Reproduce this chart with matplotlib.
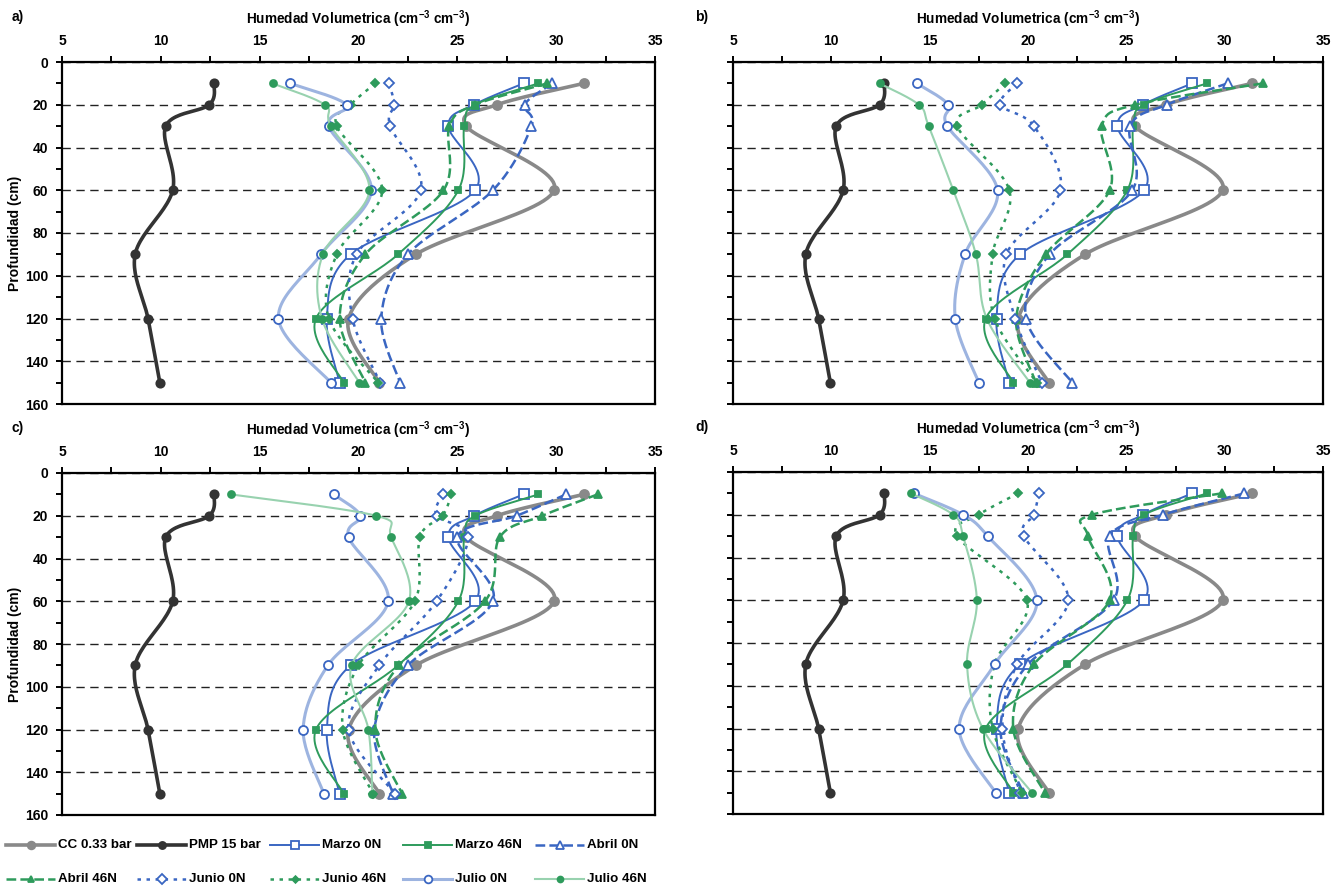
import numpy as np
import matplotlib
matplotlib.use('Agg')
import matplotlib.pyplot as plt
from matplotlib.lines import Line2D
from matplotlib.ticker import MultipleLocator

plt.rcParams['font.family'] = ['Liberation Sans', 'DejaVu Sans']
plt.rcParams['font.weight'] = 'bold'
plt.rcParams['mathtext.fontset'] = 'custom'
plt.rcParams['mathtext.rm'] = 'Liberation Sans:bold'
plt.rcParams['mathtext.bf'] = 'Liberation Sans:bold'
plt.rcParams['lines.scale_dashes'] = False

# depth of each reading (cm)
depths = [10, 20, 30, 60, 90, 120, 150]

# same in every panel
cc = [31.4, 27.0, 25.45, 29.9, 22.9, 19.5, 21.05]
pmp = [12.7, 12.45, 10.25, 10.6, 8.7, 9.35, 9.95]
marzo_0n = [28.35, 25.85, 24.55, 25.9, 19.6, 18.4, 19.05]
marzo_46n = [29.1, 25.9, 25.35, 25.05, 22.0, 17.85, 19.25]

# panel a
abril_0n_a = [29.8, 28.4, 28.75, 26.8, 22.5, 21.15, 22.1]
abril_46n_a = [29.55, 25.9, 24.6, 24.3, 20.35, 19.05, 20.35]
junio_0n_a = [21.55, 21.8, 21.6, 23.15, 19.9, 19.7, 21.1]
junio_46n_a = [20.85, 19.6, 18.9, 21.2, 18.9, 18.5, 21.0]
julio_0n_a = [16.55, 19.4, 18.5, 20.65, 18.1, 15.95, 18.6]
julio_46n_a = [15.65, 18.3, 18.6, 20.55, 18.2, 18.15, 20.05]

# panel b
abril_0n_b = [30.15, 27.05, 25.2, 25.3, 21.1, 19.9, 22.25]
abril_46n_b = [31.95, 25.45, 23.75, 24.15, 20.9, 19.4, 20.4]
junio_0n_b = [19.45, 18.6, 20.3, 21.65, 18.9, 19.35, 20.7]
junio_46n_b = [18.85, 17.65, 16.4, 19.05, 18.2, 18.3, 20.45]
julio_0n_b = [14.35, 15.95, 15.9, 18.45, 16.8, 16.3, 17.5]
julio_46n_b = [12.45, 14.45, 14.95, 16.2, 17.35, 17.9, 20.1]

# panel c
abril_0n_c = [30.5, 28.0, 25.0, 26.8, 22.5, 20.8, 21.75]
abril_46n_c = [32.1, 29.3, 27.15, 26.4, 22.05, 20.85, 22.2]
junio_0n_c = [24.25, 23.95, 25.55, 23.95, 21.05, 19.5, 21.85]
junio_46n_c = [24.7, 24.25, 23.1, 22.85, 20.0, 19.2, 20.75]
julio_0n_c = [18.75, 20.1, 19.5, 21.5, 18.45, 17.2, 18.25]
julio_46n_c = [13.55, 20.9, 21.65, 22.55, 19.65, 20.5, 20.7]

# panel d
abril_0n_d = [31.0, 26.85, 24.15, 24.35, 20.0, 18.6, 19.75]
abril_46n_d = [29.85, 23.25, 23.05, 24.15, 20.3, 19.25, 20.85]
junio_0n_d = [20.55, 20.3, 19.8, 22.05, 19.45, 18.7, 19.6]
junio_46n_d = [19.5, 17.5, 16.4, 19.95, 18.3, 18.2, 19.7]
julio_0n_d = [14.2, 16.7, 17.95, 20.45, 18.3, 16.5, 18.35]
julio_46n_d = [14.05, 16.2, 16.7, 17.4, 16.9, 17.7, 20.2]

labels = ['CC 0.33 bar', 'PMP 15 bar', 'Marzo 0N', 'Marzo 46N', 'Abril 0N',
          'Abril 46N', 'Junio 0N', 'Junio 46N', 'Julio 0N', 'Julio 46N']

grey = '#898989'
dark = '#333333'
blue = '#3A66C2'
green = '#2E9B5C'
lblue = '#9DB4E0'
lgreen = '#98D2AF'
dash = (0, (7, 3))
dot = (0, (2.5, 4))

# color, linestyle, linewidth, marker, facecolor, edgecolor, markersize
styles = [
  (grey, '-', 2.6, 'o', grey, grey, 6.5),
  (dark, '-', 2.6, 'o', dark, dark, 6),
  (blue, '-', 1.4, 's', 'white', blue, 6.5),
  (green, '-', 1.4, 's', green, green, 5),
  (blue, dash, 1.8, '^', 'white', blue, 7),
  (green, dash, 1.8, '^', green, green, 5.5),
  (blue, dot, 1.8, 'D', 'white', blue, 5.5),
  (green, dot, 1.8, 'D', green, green, 4),
  (lblue, '-', 2.2, 'o', 'white', blue, 6.5),
  (lgreen, '-', 1.5, 'o', green, green, 5),
]


def smooth_xy(xs, ys, w, h, n=25):
  # Excel-like smoothed line through the points (Catmull-Rom as Bezier)
  u = (np.asarray(xs, float) - 5) / 30 * w
  v = np.asarray(ys, float) / 160 * h
  p = np.column_stack([u, v])
  p = np.vstack([p[0], p, p[-1]])
  out = [p[1]]
  t = np.linspace(0, 1, n)[1:, None]
  for i in range(1, len(p) - 2):
    p0, p1, p2, p3 = p[i - 1], p[i], p[i + 1], p[i + 2]
    c1 = p1 + (p2 - p0) / 6
    c2 = p2 - (p3 - p1) / 6
    seg = (1 - t)**3 * p1 + 3 * (1 - t)**2 * t * c1 + 3 * (1 - t) * t**2 * c2 + t**3 * p2
    out.extend(seg)
  out = np.array(out)
  return out[:, 0] / w * 30 + 5, out[:, 1] / h * 160


W, H = 1344, 886
fig = plt.figure(figsize=(W / 100, H / 100), dpi=100)

panels = [
  ('a)', [62, 62, 655, 404], True,
   [abril_0n_a, abril_46n_a, junio_0n_a, junio_46n_a, julio_0n_a, julio_46n_a]),
  ('b)', [733, 62, 1323, 404], False,
   [abril_0n_b, abril_46n_b, junio_0n_b, junio_46n_b, julio_0n_b, julio_46n_b]),
  ('c)', [62, 473, 655, 815], True,
   [abril_0n_c, abril_46n_c, junio_0n_c, junio_46n_c, julio_0n_c, julio_46n_c]),
  ('d)', [733, 472, 1323, 814], False,
   [abril_0n_d, abril_46n_d, junio_0n_d, junio_46n_d, julio_0n_d, julio_46n_d]),
]

for letter, (x0, y0, x1, y1), left_labels, own in panels:
  ax = fig.add_axes([x0 / W, 1 - y1 / H, (x1 - x0) / W, (y1 - y0) / H])
  series = [cc, pmp, marzo_0n, marzo_46n] + own
  for k, vals in enumerate(series):
    col, ls, lw, mk, fc, ec, ms = styles[k]
    sx, sy = smooth_xy(vals, depths, x1 - x0, y1 - y0)
    ax.plot(sx, sy, color=col, ls=ls, lw=lw, zorder=3 + k, solid_capstyle='round')
    ax.plot(vals, depths, ls='none', marker=mk, ms=ms, mfc=fc, mec=ec, mew=1.3,
            zorder=3 + k)

  ax.set_xlim(5, 35)
  ax.set_ylim(160, 0)
  ax.xaxis.tick_top()
  ax.set_xticks(range(5, 36, 5))
  ax.xaxis.set_minor_locator(MultipleLocator(2.5))
  ax.set_yticks(range(0, 161, 20))
  ax.yaxis.set_minor_locator(MultipleLocator(10))
  ax.tick_params(axis='both', which='both', direction='out', length=4, width=1.4,
                 labelsize=10, color='black')
  ax.tick_params(axis='x', which='both', pad=6)
  ax.tick_params(axis='y', which='both', pad=6, labelleft=left_labels)
  for lab in ax.get_xticklabels() + ax.get_yticklabels():
    lab.set_fontweight('bold')
  for sp in ax.spines.values():
    sp.set_linewidth(1.6)
  ax.grid(axis='y', which='major', color='#222222', lw=1.0, ls=(0, (6, 4)), zorder=1)
  ax.xaxis.set_label_position('top')
  ax.set_xlabel(r'Humedad Volumetrica (cm$^{-3}$ cm$^{-3}$)', fontsize=9.8,
                fontweight='bold', labelpad=7)
  if left_labels:
    ax.set_ylabel('Profundidad (cm)', fontsize=10, fontweight='bold', labelpad=2)
  fig.text((x0 - 50) / W if left_labels else (x0 - 38) / W, 1 - (y0 - 45) / H, letter,
           fontsize=10, fontweight='bold', va='center')

# legend drawn by hand, two rows of five like the reference
cols_x = [6, 137, 270, 403, 535]
rows_y = [845, 879]
for k, lab in enumerate(labels):
  col, ls, lw, mk, fc, ec, ms = styles[k]
  xs = cols_x[k % 5]
  yy = 1 - rows_y[k // 5] / H
  fig.add_artist(Line2D([xs / W, (xs + 49) / W], [yy, yy], color=col, ls=ls, lw=lw,
                        transform=fig.transFigure))
  fig.add_artist(Line2D([(xs + 24.5) / W], [yy], ls='none', marker=mk, ms=ms * 0.85,
                        mfc=fc, mec=ec, mew=1.3, transform=fig.transFigure))
  fig.text((xs + 52) / W, yy, lab, fontsize=9.6, fontweight='bold', va='center')

fig.savefig('out.png', dpi=100)
